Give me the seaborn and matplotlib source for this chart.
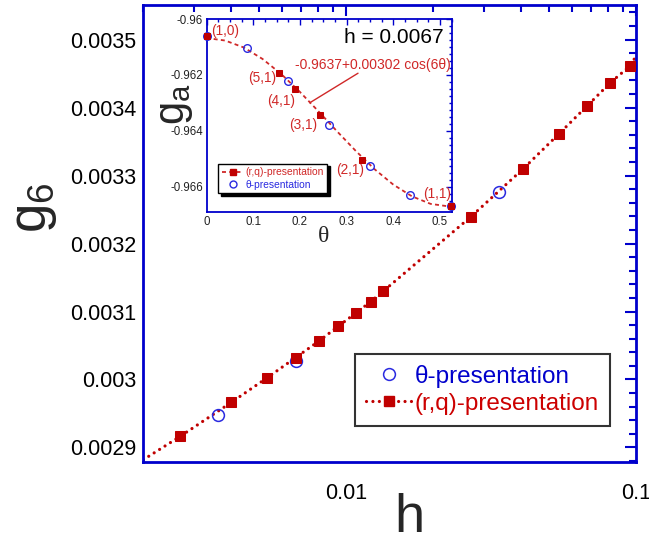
import matplotlib
matplotlib.use("Agg")
import matplotlib.pyplot as plt
import seaborn as sns
from matplotlib.lines import Line2D
from matplotlib.ticker import (MultipleLocator, LogLocator, FuncFormatter,
                               NullFormatter)

# ---------------- main panel data ----------------
rq_h = [0.00268, 0.00402, 0.00536, 0.0067, 0.00805, 0.0094, 0.0108, 0.01215,
        0.01345, 0.0270, 0.0408, 0.0542, 0.0680, 0.0816, 0.0957]
rq_g = [0.0029162, 0.0029662, 0.0030028, 0.0030321, 0.0030562, 0.0030782,
        0.0030976, 0.0031143, 0.0031300, 0.0032397, 0.0033099, 0.0033613,
        0.0034029, 0.0034368, 0.0034618]
theta_h = [0.00363, 0.0067, 0.0338]
theta_g = [0.0029476, 0.0030268, 0.0032765]
fit_ends_h = [0.002, 0.1]
fit_ends_g = [0.0028819, 0.0034760]
main_xticks = [0.01, 0.1]
main_xticklabels = ["0.01", "0.1"]

# ---------------- inset data ----------------
in_rq_theta = [0.0, 0.1562, 0.1901, 0.2426, 0.3335, 0.5236]
in_rq_g = [-0.960597, -0.961932, -0.962494, -0.963445, -0.965045, -0.966680]
in_rq_labels = ["(1,0)", "(5,1)", "(4,1)", "(3,1)", "(2,1)", "(1,1)"]
in_th_theta = [0.0, 0.0873, 0.1745, 0.2618, 0.3491, 0.4363, 0.5236]
in_th_g = [-0.960597, -0.961048, -0.962229, -0.963803, -0.965249, -0.966297,
           -0.966680]
fit_theta = [0.0, 0.04, 0.08, 0.12, 0.16, 0.20, 0.24, 0.28, 0.32, 0.36, 0.40,
             0.44, 0.48, 0.5236]
fit_g = [-0.96068, -0.96077, -0.96102, -0.96143, -0.96197, -0.96261, -0.96331,
         -0.96403, -0.96473, -0.96538, -0.96593, -0.96635, -0.96662, -0.96672]
fit_text = "-0.9637+0.00302 cos(6\u03b8)"
h_text = "h = 0.0067"

# ---------------- style ----------------
sns.set_theme(style="white")
plt.rcParams["font.family"] = ["Liberation Sans", "DejaVu Sans"]
plt.rcParams["axes.unicode_minus"] = False
plt.rcParams["mathtext.fontset"] = "custom"
plt.rcParams["mathtext.rm"] = "Liberation Sans"

BLUE = "#0000cc"
RED = "#c00000"
CBLUE = "#2a2ae0"
LRED = "#d02828"

fig = plt.figure(figsize=(6.49, 5.44), dpi=100)
ax = fig.add_axes([0.2208, 0.1513, 0.7592, 0.8395])

# dotted fit line through the (r,q) points
line_h = [fit_ends_h[0]] + rq_h + [fit_ends_h[1]]
line_g = [fit_ends_g[0]] + rq_g + [fit_ends_g[1]]
sns.lineplot(x=line_h, y=line_g, ax=ax, estimator=None, sort=False,
             color=RED, linewidth=2.3, linestyle=(0, (0.01, 2.0)),
             dash_capstyle="round", zorder=2)
sns.lineplot(x=theta_h, y=theta_g, ax=ax, estimator=None, sort=False,
             linestyle="none", marker="o", markersize=8.5,
             markerfacecolor="none", markeredgecolor=CBLUE,
             markeredgewidth=1.1, zorder=3)
sns.lineplot(x=rq_h, y=rq_g, ax=ax, estimator=None, sort=False,
             linestyle="none", marker="s", markersize=7.3,
             markerfacecolor=RED, markeredgecolor=RED, zorder=4)

ax.set_xscale("log")
ax.set_xlim(0.002, 0.1)
ax.set_ylim(0.002879, 0.003551)
ax.set_xticks(main_xticks, main_xticklabels)
ax.xaxis.set_minor_locator(LogLocator(base=10, subs=[2, 3, 4, 5, 6, 7, 8, 9],
                                      numticks=20))
ax.xaxis.set_minor_formatter(NullFormatter())
ax.yaxis.set_major_locator(MultipleLocator(0.0001))
ax.yaxis.set_minor_locator(MultipleLocator(0.00002))
ax.yaxis.set_major_formatter(FuncFormatter(lambda v, p: f"{v:.4f}".rstrip("0")))

for s in ax.spines.values():
    s.set_color(BLUE)
    s.set_linewidth(2.0)
ax.tick_params(which="both", direction="in", top=True, right=True,
               color=BLUE, width=1.5, labelsize=15.5, labelcolor="black")
ax.tick_params(which="major", length=8)
ax.tick_params(which="minor", length=5)
ax.tick_params(axis="y", pad=5)
ax.tick_params(axis="x", pad=15)

ax.set_ylabel(r"$\mathregular{g_6}$", fontsize=38, va="center", ha="center")
ax.yaxis.set_label_coords(-0.222, 0.556)
ax.set_xlabel(r"$\mathregular{h}$", fontsize=39, va="center", ha="center")
ax.xaxis.set_label_coords(0.537, -0.124)

h_theta = Line2D([], [], linestyle="none", marker="o", markersize=8.5,
                 markerfacecolor="none", markeredgecolor=CBLUE,
                 markeredgewidth=1.1)
h_rq = Line2D([], [], color=RED, linewidth=2.3, linestyle=(0, (0.01, 2.0)),
              dash_capstyle="round", marker="s", markersize=7.3,
              markerfacecolor=RED, markeredgecolor=RED)
leg = ax.legend([h_theta, h_rq], ["\u03b8-presentation", "(r,q)-presentation"],
                loc="upper right", bbox_to_anchor=(0.947, 0.236),
                borderaxespad=0, fontsize=17.5, handlelength=1.85,
                handletextpad=0.15, borderpad=0.45, labelspacing=0.2,
                fancybox=False, framealpha=1, edgecolor="#333333",
                labelcolor=[BLUE, "#cc0000"])
leg.get_frame().set_linewidth(1.5)

# ---------------- inset ----------------
ax_in = fig.add_axes([0.3182, 0.6108, 0.3778, 0.3542])
sns.lineplot(x=fit_theta, y=fit_g, ax=ax_in, estimator=None, sort=False,
             color=LRED, linewidth=1.3, linestyle=(0, (2.2, 1.8)), zorder=2)
sns.lineplot(x=in_th_theta, y=in_th_g, ax=ax_in, estimator=None, sort=False,
             linestyle="none", marker="o", markersize=5.5,
             markerfacecolor="none", markeredgecolor=CBLUE,
             markeredgewidth=1.0, clip_on=False, zorder=3)
sns.lineplot(x=in_rq_theta, y=in_rq_g, ax=ax_in, estimator=None, sort=False,
             linestyle="none", marker="s", markersize=5.0,
             markerfacecolor=RED, markeredgecolor=RED, clip_on=False, zorder=4)

ax_in.set_xlim(0, 0.525)
ax_in.set_ylim(-0.9669, -0.96)
ax_in.xaxis.set_major_locator(MultipleLocator(0.1))
ax_in.xaxis.set_minor_locator(MultipleLocator(0.025))
ax_in.yaxis.set_major_locator(MultipleLocator(0.002))
ax_in.yaxis.set_minor_locator(MultipleLocator(0.00025))
ax_in.xaxis.set_major_formatter(
    FuncFormatter(lambda v, p: "0" if abs(v) < 1e-9 else f"{v:.1f}"))
ax_in.yaxis.set_major_formatter(FuncFormatter(lambda v, p: f"{v:.3f}".rstrip("0")))
for s in ax_in.spines.values():
    s.set_color(BLUE)
    s.set_linewidth(1.3)
ax_in.tick_params(which="both", direction="in", top=True, right=True,
                  color=BLUE, width=1.0, labelsize=8.3, labelcolor="#222222")
ax_in.tick_params(which="major", length=4.5)
ax_in.tick_params(which="minor", length=2.5)
ax_in.tick_params(axis="y", pad=2.5)
ax_in.tick_params(axis="x", pad=3)

ax_in.set_ylabel(r"$\mathregular{g_a}$", fontsize=30, va="center", ha="center")
ax_in.yaxis.set_label_coords(-0.13, 0.56)
ax_in.set_xlabel("\u03b8", fontsize=17, family="Liberation Serif",
                 va="center", ha="center")
ax_in.xaxis.set_label_coords(0.476, -0.128)

ax_in.text(0.966, 0.874, h_text, transform=ax_in.transAxes, ha="right",
           va="baseline", fontsize=15, color="black")
ax_in.text(0.995, 0.7405, fit_text, transform=ax_in.transAxes, ha="right",
           va="baseline", fontsize=10, color=LRED)
ax_in.annotate("", xy=(0.221, -0.963), xytext=(0.3244, -0.96194),
               xycoords="data", textcoords="data",
               arrowprops=dict(arrowstyle="-", color=LRED, lw=1.0,
                               shrinkA=0, shrinkB=0))

label_offsets = [(18.5, 4.7), (-17.1, -5.3), (-14.2, -12.5), (-16.8, -9.7),
                 (-12.1, -10.0), (-13.5, 11.5)]
for t, g, lab, off in zip(in_rq_theta, in_rq_g, in_rq_labels, label_offsets):
    ax_in.annotate(lab, xy=(t, g), xytext=off, textcoords="offset pixels",
                   ha="center", va="center", fontsize=9.8, color=LRED)

ih_rq = Line2D([], [], color=LRED, linewidth=1.3, linestyle=(0, (2.2, 1.8)),
               marker="s", markersize=5, markerfacecolor=RED,
               markeredgecolor=RED)
ih_th = Line2D([], [], linestyle="none", marker="o", markersize=5,
               markerfacecolor="none", markeredgecolor=CBLUE,
               markeredgewidth=1.0)
leg_in = ax_in.legend([ih_rq, ih_th], ["(r,q)-presentation", "\u03b8-presentation"],
                      loc="lower left", bbox_to_anchor=(0.048, 0.0955),
                      borderaxespad=0, fontsize=7.4, handlelength=2.1,
                      handletextpad=0.15, borderpad=0.35, labelspacing=0.25,
                      fancybox=False, framealpha=1, edgecolor="black",
                      shadow={"color": "black", "alpha": 1},
                      labelcolor=[LRED, CBLUE])
leg_in.get_frame().set_linewidth(1.0)

fig.savefig("out.png", dpi=100)
